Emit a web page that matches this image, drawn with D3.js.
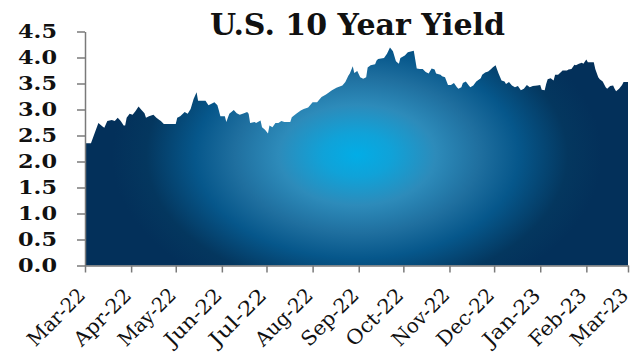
<!DOCTYPE html>
<html><head><meta charset="utf-8">
<script src="https://cdn.jsdelivr.net/npm/d3@7"></script>
<style>html,body{margin:0;padding:0;background:#fff;}svg{display:block;}</style>
</head><body>
<svg id="chart" width="636" height="355"></svg>
<script>
const title = "U.S. 10 Year Yield";
const dates = ["2022-03-01","2022-03-05","2022-03-10","2022-03-13","2022-03-14","2022-03-16","2022-03-19","2022-03-21","2022-03-23","2022-03-25",
"2022-03-27","2022-03-28","2022-03-29","2022-03-31","2022-04-02","2022-04-04","2022-04-06","2022-04-08","2022-04-10","2022-04-11",
"2022-04-13","2022-04-14","2022-04-16","2022-04-18","2022-04-20","2022-04-21","2022-04-23","2022-05-01","2022-05-02","2022-05-04",
"2022-05-07","2022-05-09","2022-05-11","2022-05-13","2022-05-15","2022-05-16","2022-05-21","2022-05-23","2022-05-25","2022-05-27",
"2022-05-29","2022-05-30","2022-05-31","2022-06-03","2022-06-04","2022-06-06","2022-06-09","2022-06-11","2022-06-13","2022-06-15",
"2022-06-18","2022-06-19","2022-06-20","2022-06-23","2022-06-24","2022-06-27","2022-06-28","2022-06-30","2022-07-02","2022-07-03",
"2022-07-05","2022-07-07","2022-07-09","2022-07-11","2022-07-13","2022-07-17","2022-07-18","2022-07-21","2022-07-24","2022-07-26",
"2022-07-29","2022-08-01","2022-08-04","2022-08-07","2022-08-10","2022-08-14","2022-08-17","2022-08-21","2022-08-23","2022-08-25",
"2022-08-26","2022-08-28","2022-08-29","2022-08-31","2022-09-02","2022-09-04","2022-09-06","2022-09-07","2022-09-09","2022-09-12",
"2022-09-13","2022-09-14","2022-09-18","2022-09-20","2022-09-22","2022-09-24","2022-09-26","2022-09-28","2022-09-29","2022-10-02",
"2022-10-04","2022-10-08","2022-10-10","2022-10-12","2022-10-14","2022-10-16","2022-10-18","2022-10-20","2022-10-22","2022-10-23",
"2022-10-26","2022-10-27","2022-10-29","2022-10-31","2022-11-02","2022-11-04","2022-11-06","2022-11-07","2022-11-09","2022-11-10",
"2022-11-12","2022-11-14","2022-11-15","2022-11-17","2022-11-19","2022-11-22","2022-11-23","2022-11-25","2022-11-27","2022-11-29",
"2022-11-30","2022-12-02","2022-12-03","2022-12-04","2022-12-06","2022-12-08","2022-12-09","2022-12-11","2022-12-13","2022-12-15",
"2022-12-17","2022-12-19","2022-12-21","2022-12-23","2022-12-25","2022-12-27","2022-12-30","2023-01-01","2023-01-02","2023-01-04",
"2023-01-05","2023-01-06","2023-01-08","2023-01-10","2023-01-11","2023-01-13","2023-01-15","2023-01-16","2023-01-19","2023-01-20",
"2023-01-22","2023-01-24","2023-01-25","2023-01-27","2023-01-29","2023-01-30","2023-02-01","2023-02-02","2023-02-06","2023-02-07",
"2023-02-09","2023-02-10","2023-02-12","2023-02-14","2023-02-15","2023-02-17","2023-02-19","2023-02-20","2023-02-21","2023-02-23",
"2023-02-25","2023-02-26","2023-03-01"];
const yields = [2.35,2.35,2.74,2.67,2.65,2.78,2.80,2.78,2.84,2.78,
2.69,2.69,2.84,2.92,2.90,2.97,3.06,2.99,2.93,2.84,
2.87,2.88,2.90,2.84,2.80,2.78,2.72,2.72,2.84,2.87,
2.95,2.92,3.01,3.20,3.33,3.17,3.17,3.08,3.11,3.14,
3.08,2.98,2.87,2.87,2.76,2.92,2.99,2.93,2.90,2.92,
2.95,2.92,2.74,2.76,2.74,2.79,2.66,2.61,2.54,2.69,
2.66,2.74,2.74,2.78,2.76,2.76,2.85,2.92,2.98,3.01,
3.04,3.14,3.14,3.24,3.29,3.37,3.42,3.46,3.53,3.65,
3.69,3.83,3.70,3.74,3.62,3.59,3.62,3.81,3.85,3.87,
3.94,3.97,3.99,4.07,4.19,4.12,3.93,3.88,3.99,4.04,
4.10,4.13,3.79,3.78,3.78,3.72,3.69,3.79,3.77,3.69,
3.67,3.64,3.62,3.47,3.47,3.51,3.43,3.40,3.43,3.51,
3.54,3.46,3.43,3.46,3.54,3.60,3.67,3.71,3.73,3.78,
3.81,3.85,3.77,3.69,3.56,3.54,3.49,3.53,3.46,3.43,
3.45,3.37,3.40,3.47,3.43,3.45,3.46,3.47,3.38,3.37,
3.49,3.58,3.60,3.56,3.67,3.67,3.72,3.75,3.75,3.77,
3.78,3.86,3.85,3.88,3.90,3.88,3.96,3.91,3.91,3.78,
3.62,3.58,3.54,3.43,3.40,3.45,3.46,3.40,3.35,3.40,
3.47,3.53,3.53];
const yTicks = [0,0.5,1,1.5,2,2.5,3,3.5,4,4.5];
const xStart = "2022-03-01", xEnd = "2023-03-01";

const parse = d3.utcParse("%Y-%m-%d");
const data = dates.map((d,i)=>({date:parse(d), v:yields[i]}));
const svg = d3.select("#chart");

const x = d3.scaleUtc().domain([parse(xStart), parse(xEnd)]).range([85, 628]);
const y = d3.scaleLinear().domain([0, 4.5]).range([265.5, 31.5]);

const defs = svg.append("defs");
const grad = defs.append("radialGradient").attr("id","g")
  .attr("gradientUnits","userSpaceOnUse")
  .attr("cx",357).attr("cy",155).attr("r",245).attr("fx",357).attr("fy",155)
  .attr("gradientTransform","translate(0,155) scale(1,0.64) translate(0,-155)");
[[0,"#02ade6"],[0.14,"#10a2d8"],[0.32,"#2d8bba"],[0.5,"#1f6f9f"],[0.66,"#06578b"],[0.86,"#04375f"],[1,"#03305a"]]
  .forEach(([o,c])=>grad.append("stop").attr("offset",o).attr("stop-color",c));

const area = d3.area().x(d=>x(d.date)).y0(y(0)).y1(d=>y(d.v)).curve(d3.curveLinear);
svg.append("path").datum(data).attr("d",area).attr("fill","url(#g)");

// axes
const font = "'DejaVu Serif', serif";
const yAxis = svg.append("g").attr("transform","translate(85,0)")
  .call(d3.axisLeft(y).tickValues(yTicks).tickFormat(d3.format(".1f")).tickSize(8).tickSizeOuter(0).tickPadding(20));
yAxis.selectAll("text").attr("font-family",font).attr("font-weight","bold").attr("font-size",19)
  .attr("fill","#111").attr("textLength",39).attr("lengthAdjust","spacingAndGlyphs");
yAxis.selectAll("line,path").attr("stroke","#7a7a7a").attr("stroke-width",1.5);

const xAxis = svg.append("g").attr("transform","translate(0,265.5)")
  .call(d3.axisBottom(x).ticks(d3.utcMonth.every(1)).tickFormat(d3.utcFormat("%b-%y")).tickSize(7).tickSizeOuter(0));
xAxis.selectAll("text").attr("font-family",font).attr("font-size",20).attr("fill","#111")
  .attr("text-anchor","end").attr("x",0).attr("y",0).attr("dy",0)
  .attr("textLength",72).attr("lengthAdjust","spacingAndGlyphs")
  .attr("transform","translate(1,31) rotate(-45)");
xAxis.selectAll("line,path").attr("stroke","#7a7a7a").attr("stroke-width",1.5);

svg.append("text").attr("x",210).attr("y",35).attr("font-family",font).attr("font-weight","bold")
  .attr("font-size",30).attr("fill","#111").attr("textLength",295).attr("lengthAdjust","spacingAndGlyphs")
  .text(title);
</script>
</body></html>
